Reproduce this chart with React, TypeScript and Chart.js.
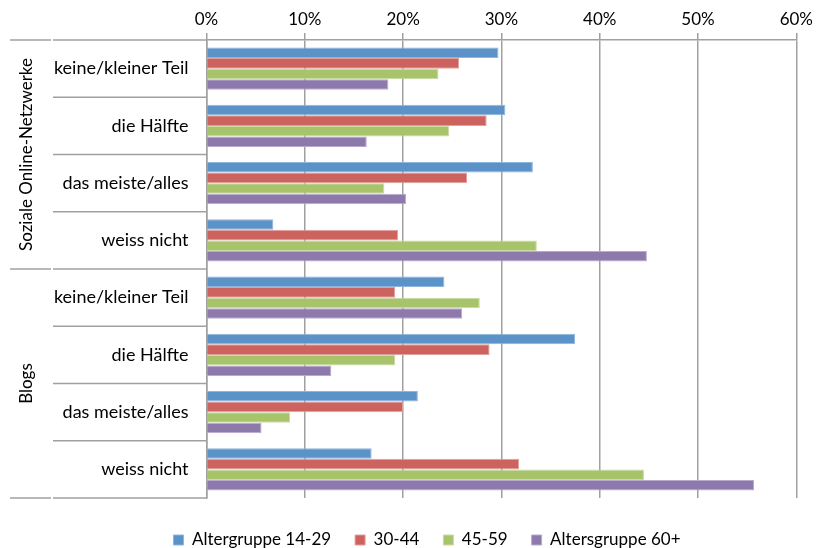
import React, { useEffect, useRef } from "react";
import { Chart, registerables } from "chart.js";

Chart.register(...registerables);

const groups = ["Soziale Online-Netzwerke", "Blogs"];
const categories = ["keine/kleiner Teil", "die Hälfte", "das meiste/alles", "weiss nicht"];
const labels = [...categories, ...categories];

const seriesNames = ["Altergruppe 14-29", "30-44", "45-59", "Altersgruppe 60+"];
const age14_29 = [29.7, 30.4, 33.2, 6.8, 24.2, 37.5, 21.5, 16.8];
const age30_44 = [25.7, 28.5, 26.5, 19.5, 19.2, 28.8, 20.0, 31.8];
const age45_59 = [23.6, 24.7, 18.1, 33.6, 27.8, 19.2, 8.5, 44.5];
const age60plus = [18.5, 16.3, 20.3, 44.8, 26.0, 12.7, 5.6, 55.7];

const xTicks = [0, 10, 20, 30, 40, 50, 60];

const fillColors = ["#5b92c8", "#cd635f", "#a7c46b", "#8e79ad"];
const edgeColors = ["#8fb5dc", "#e0a09e", "#c9dca6", "#b8aacd"];

const FONT = "Lato, 'Open Sans', sans-serif";
const GRID = "#a0a0a0";
const LEGEND_DX = 28;
const LEGEND_DY = 9.5;

const groupPlugin = {
  id: "groupLabels",
  afterLayout(chart: any) {
    const lg = chart.legend;
    if (lg) {
      lg.left += LEGEND_DX;
      lg.right += LEGEND_DX;
      lg.top += LEGEND_DY;
      lg.bottom += LEGEND_DY;
    }
  },
  afterDraw(chart: any) {
    const { ctx, chartArea, scales } = chart;
    const y = scales.y;
    const n = labels.length;
    const step = y.getPixelForValue(1) - y.getPixelForValue(0);
    const per = categories.length;
    ctx.save();
    ctx.strokeStyle = GRID;
    ctx.lineWidth = 1.5;
    const line = (x1: number, y1: number, x2: number, y2: number) => {
      ctx.beginPath();
      ctx.moveTo(x1, y1);
      ctx.lineTo(x2, y2);
      ctx.stroke();
    };
    for (let i = 0; i <= n; i++) {
      const py = i < n ? y.getPixelForValue(i) - step / 2 : y.getPixelForValue(n - 1) + step / 2;
      line(53, py, chartArea.left, py);
      if (i % per === 0) line(10, py, 51, py);
    }
    ctx.fillStyle = "#000";
    ctx.font = `17px ${FONT}`;
    ctx.textAlign = "center";
    ctx.textBaseline = "middle";
    groups.forEach((g, gi) => {
      const top = y.getPixelForValue(gi * per) - step / 2;
      const bot = y.getPixelForValue(gi * per + per - 1) + step / 2;
      ctx.save();
      ctx.translate(27, (top + bot) / 2);
      ctx.rotate(-Math.PI / 2);
      ctx.fillText(g, 0, 0);
      ctx.restore();
    });
    ctx.restore();
  },
};

export default function App() {
  const ref = useRef<HTMLCanvasElement | null>(null);
  useEffect(() => {
    if (!ref.current) return;
    const series = [age14_29, age30_44, age45_59, age60plus];
    const chart = new Chart(ref.current, {
      type: "bar",
      data: {
        labels,
        datasets: series.map((d, i) => ({
          label: seriesNames[i],
          data: d,
          backgroundColor: fillColors[i],
          borderColor: edgeColors[i],
          borderWidth: 1,
          categoryPercentage: 0.74,
          barPercentage: 1.0,
        })),
      },
      options: {
        indexAxis: "y",
        responsive: false,
        animation: false,
        devicePixelRatio: 1,
        layout: { padding: { left: 0, right: 18, top: 0, bottom: 0 } },
        scales: {
          x: {
            position: "top",
            min: 0,
            max: 60,
            afterFit: (s: any) => {
              s.height = 40;
            },
            afterBuildTicks: (s: any) => {
              s.ticks = xTicks.map((v) => ({ value: v }));
            },
            ticks: {
              callback: (v: any) => `${v}%`,
              color: "#000",
              font: { family: FONT, size: 17 },
              padding: 3,
            },
            grid: { color: GRID, lineWidth: 1.5, tickLength: 7 },
            border: { display: true, color: GRID, width: 1.5 },
          },
          y: {
            afterFit: (s: any) => {
              s.width = 206.5;
            },
            ticks: {
              color: "#000",
              font: { family: FONT, size: 18 },
              padding: 18,
              autoSkip: false,
            },
            grid: { display: false, drawTicks: false },
            border: { display: true, color: GRID, width: 1.5 },
          },
        },
        plugins: {
          legend: {
            position: "bottom",
            labels: {
              boxWidth: 10,
              boxHeight: 10,
              padding: 24,
              color: "#000",
              font: { family: FONT, size: 17 },
            },
          },
          tooltip: { enabled: false },
        },
      },
      plugins: [groupPlugin],
    });
    return () => chart.destroy();
  }, []);
  return (
    <div style={{ position: "fixed", left: 0, top: 0, width: 816, height: 548, overflow: "hidden", background: "#fff" }}>
      <canvas ref={ref} width={816} height={549} style={{ display: "block" }} />
    </div>
  );
}
